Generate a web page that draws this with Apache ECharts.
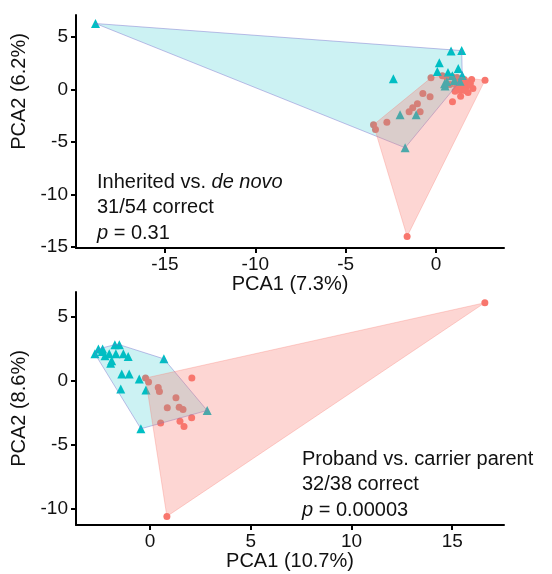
<!DOCTYPE html>
<html><head><meta charset="utf-8">
<script src="https://cdn.jsdelivr.net/npm/echarts@6/dist/echarts.min.js"></script>
<style>html,body{margin:0;padding:0;background:#fff}#c{width:552px;height:574px}</style>
</head><body><div id="c"></div>
<script>
// Top panel: Inherited vs. de novo
const topTeal = [
  [-18.84,6.29],[0.83,3.67],[1.42,3.71],[0.18,2.54],[0.07,1.71],[-2.36,1.02],
  [0.66,1.62],[1.23,2.0],[1.45,1.33],[1.01,0.86],[1.33,0.79],[0.47,0.54],
  [0.5,0.33],[-1.99,-2.41],[-1.10,-2.41],[-1.71,-5.55],[0.9,1.3],[0.6,0.75]
];
const topRed = [
  [-0.28,1.11],[0.59,1.17],[0.88,1.24],[1.16,1.14],[1.56,0.95],[1.97,0.95],
  [2.71,0.89],[1.14,0.31],[1.42,0.16],[1.70,0.31],[1.78,0.64],[1.33,-0.07],
  [1.05,-0.16],[0.91,-1.17],[1.36,-0.64],[-0.73,-0.38],[-0.33,-0.70],[-1.03,-1.36],
  [-1.29,-1.74],[-1.49,-2.12],[-0.88,-2.12],[-2.72,-3.11],[-3.46,-3.36],[-3.35,-3.81],
  [-1.60,-14.0],[0.77,0.48],[2.04,0.10],[1.77,-0.29],[1.25,0.55],[1.55,0.45],
  [1.9,0.55],[1.6,-0.1],[1.2,0.95],[0.35,1.3]
];
// Bottom panel: Proband vs. carrier parent
const botTeal = [
  [-2.73,2.09],[-2.56,2.48],[-2.35,2.48],[-2.37,2.27],[-2.23,1.95],[-2.02,2.09],
  [-1.74,2.81],[-1.52,2.81],[-1.69,2.09],[-1.32,2.09],[-1.08,1.88],[-1.90,1.56],
  [-1.95,1.35],[0.69,1.70],[-1.40,0.52],[-1.03,0.52],[-0.53,0.13],[-1.45,-0.65],
  [-0.20,-0.73],[-0.45,-3.77],[2.84,-2.34]
];
const botRed = [
  [-0.22,0.20],[-0.07,-0.12],[0.41,-0.55],[0.47,-0.86],[2.08,0.20],[1.29,-1.35],
  [0.86,-2.13],[1.45,-2.09],[1.64,-2.27],[0.53,-3.32],[1.49,-3.18],[1.69,-3.59],
  [2.07,-2.91],[16.62,6.09],[0.84,-10.63]
];
const topXTicks = [-15,-10,-5,0];
const topYTicks = [-15,-10,-5,0,5];
const botXTicks = [0,5,10,15];
const botYTicks = [-10,-5,0,5];

const TEAL = '#00BFC4', RED = '#F8766D';
const FONT = 'Liberation Sans, Arial, sans-serif';

function hull(points){
  const p = points.slice().sort((a,b)=>a[0]-b[0]||a[1]-b[1]);
  const cross=(o,a,b)=>(a[0]-o[0])*(b[1]-o[1])-(a[1]-o[1])*(b[0]-o[0]);
  const lo=[],up=[];
  for(const q of p){while(lo.length>=2&&cross(lo[lo.length-2],lo[lo.length-1],q)<=0)lo.pop();lo.push(q);}
  for(let i=p.length-1;i>=0;i--){const q=p[i];while(up.length>=2&&cross(up[up.length-2],up[up.length-1],q)<=0)up.pop();up.push(q);}
  up.pop();lo.pop();return lo.concat(up);
}
function hullSeries(pts, idx, fill, stroke, z){
  const h = hull(pts);
  return {type:'custom', xAxisIndex:idx, yAxisIndex:idx, z:z, silent:true, clip:false,
    data:[h[0]],
    renderItem:(params, api)=>({type:'polygon',
      shape:{points:h.map(p=>api.coord(p))},
      style:{fill:fill, stroke:stroke, lineWidth:1}})
  };
}
function scatter(pts, idx, sym, color){
  return {type:'scatter', xAxisIndex:idx, yAxisIndex:idx, z:2, data:pts,
    symbol:sym, symbolSize: sym==='triangle'?9:7, itemStyle:{color:color, opacity:1}};
}
const axLine = {show:true, onZero:false, lineStyle:{color:'#000', width:2}};
const axTick = v=>({show:true, length:5, lineStyle:{color:'#000', width:2}, customValues:v});
const axLabel = (v,m)=>({fontSize:19, color:'#111', fontFamily:FONT, margin:m, customValues:v});

const option = {
  animation:false,
  grid:[
    {left:76, top:15, width:428, height:233},
    {left:76, top:292, width:428, height:233}
  ],
  xAxis:[
    {type:'value', gridIndex:0, min:-19.92, max:3.76, axisLine:axLine, axisTick:axTick(topXTicks),
     axisLabel:axLabel(topXTicks,7), splitLine:{show:false},
     name:'PCA1 (7.3%)', nameLocation:'middle', nameGap:24,
     nameTextStyle:{fontSize:20, color:'#111', fontFamily:FONT, verticalAlign:'top'}},
    {type:'value', gridIndex:1, min:-3.67, max:17.57, axisLine:axLine, axisTick:axTick(botXTicks),
     axisLabel:axLabel(botXTicks,7), splitLine:{show:false},
     name:'PCA1 (10.7%)', nameLocation:'middle', nameGap:18,
     nameTextStyle:{fontSize:20, color:'#111', fontFamily:FONT, verticalAlign:'top'}}
  ],
  yAxis:[
    {type:'value', gridIndex:0, min:-15.1, max:7.1, axisLine:axLine, axisTick:axTick(topYTicks),
     axisLabel:axLabel(topYTicks,8), splitLine:{show:false},
     name:'PCA2 (6.2%)', nameLocation:'middle', nameGap:37,
     nameTextStyle:{fontSize:20, color:'#111', fontFamily:FONT, padding:[0,0,0,80]}},
    {type:'value', gridIndex:1, min:-11.3, max:6.93, axisLine:axLine, axisTick:axTick(botYTicks),
     axisLabel:axLabel(botYTicks,8), splitLine:{show:false},
     name:'PCA2 (8.6%)', nameLocation:'middle', nameGap:37,
     nameTextStyle:{fontSize:20, color:'#111', fontFamily:FONT}}
  ],
  series:[
    scatter(topRed,0,'circle',RED),
    scatter(topTeal,0,'triangle',TEAL),
    hullSeries(topTeal,0,'rgba(0,191,196,0.2)','rgba(120,110,205,0.45)',3),
    hullSeries(topRed,0,'rgba(248,118,109,0.3)','rgba(248,118,109,0.3)',4),
    scatter(botRed,1,'circle',RED),
    scatter(botTeal,1,'triangle',TEAL),
    hullSeries(botTeal,1,'rgba(0,191,196,0.2)','rgba(120,110,205,0.45)',3),
    hullSeries(botRed,1,'rgba(248,118,109,0.3)','rgba(248,118,109,0.3)',4)
  ],
  graphic:[
    {type:'text', left:97, top:172, z:10, style:{
      text:'{n|Inherited vs. }{i|de novo}\n{n|31/54 correct}\n{i|p}{n| = 0.31}',
      rich:{n:{fontSize:20, fontFamily:FONT, fill:'#111', lineHeight:25.5},
            i:{fontSize:20, fontFamily:FONT, fontStyle:'italic', fill:'#111', lineHeight:25.5}}}},
    {type:'text', left:302, top:449, z:10, style:{
      text:'{n|Proband vs. carrier parent}\n{n|32/38 correct}\n{i|p}{n| = 0.00003}',
      rich:{n:{fontSize:20, fontFamily:FONT, fill:'#111', lineHeight:25.5},
            i:{fontSize:20, fontFamily:FONT, fontStyle:'italic', fill:'#111', lineHeight:25.5}}}}
  ]
};
echarts.init(document.getElementById('c')).setOption(option);
</script></body></html>
